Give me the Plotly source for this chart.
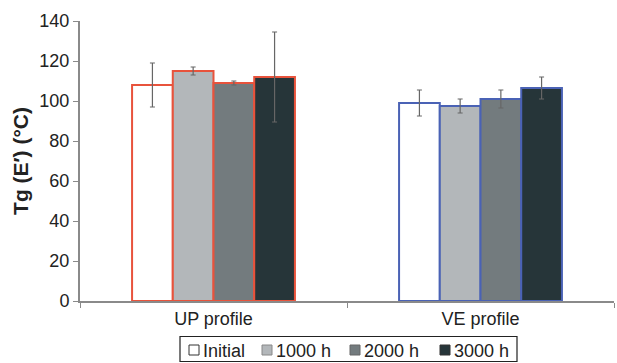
import plotly.graph_objects as go

# Glass transition temperature Tg(E') by profile and ageing time
profiles = ["UP profile", "VE profile"]
series_names = ["Initial", "1000 h", "2000 h", "3000 h"]
tg_initial = [108, 99]
tg_1000h = [115, 97.5]
tg_2000h = [109, 101]
tg_3000h = [112, 106.5]
err_initial = [11, 6.5]
err_1000h = [2, 3.5]
err_2000h = [1, 4.5]
err_3000h = [22.5, 5.5]

values = [tg_initial, tg_1000h, tg_2000h, tg_3000h]
errors = [err_initial, err_1000h, err_2000h, err_3000h]
fills = ["#ffffff", "#b3b7ba", "#737b7e", "#263539"]
swatch_edges = ["#333333", "#888888", "#666666", "#333333"]
outline = ["#e8533c", "#4a62b5"]

W, H = 617, 363
ML, MR, MT, MB = 80, 3, 21, 62
PW, PH = W - ML - MR, H - MT - MB


def px(x):
    return (x - ML) / PW


def py(y):
    return (H - MB - y) / PH


fig = go.Figure()
for name, vals, errs, fill in zip(series_names, values, errors, fills):
    fig.add_trace(go.Bar(
        x=profiles, y=vals, name=name, showlegend=False,
        marker=dict(color=fill, line=dict(color=outline, width=2)),
        error_y=dict(type="data", array=errs, visible=True,
                     color="#666666", thickness=1.2, width=2.5),
    ))

# legend box drawn in paper coordinates
shapes = [dict(type="rect", xref="paper", yref="paper",
               x0=px(180), x1=px(517), y0=py(336.5), y1=py(361.5),
               line=dict(color="#222222", width=1.2), fillcolor="white")]
annotations = []
swatch_x = [189, 262, 350, 440]
for name, fill, edge, sx in zip(series_names, fills, swatch_edges, swatch_x):
    shapes.append(dict(type="rect", xref="paper", yref="paper",
                       x0=px(sx), x1=px(sx + 10), y0=py(345), y1=py(355),
                       line=dict(color=edge, width=1), fillcolor=fill))
    annotations.append(dict(xref="paper", yref="paper", x=px(sx + 11.5),
                            y=py(350.5), text=name, showarrow=False,
                            xanchor="left", yanchor="middle",
                            font=dict(size=18, color="#222222")))

font_family = "Liberation Sans, Arial, sans-serif"
fig.update_layout(
    width=W, height=H,
    margin=dict(l=ML, r=MR, t=MT, b=MB),
    paper_bgcolor="white", plot_bgcolor="white",
    barmode="group", bargap=0.39, bargroupgap=0,
    font=dict(family=font_family, size=18, color="#222222"),
    showlegend=False,
    shapes=shapes, annotations=annotations,
)
fig.update_xaxes(
    showline=True, linecolor="#8a8a8a", linewidth=2,
    ticks="outside", tickson="boundaries", ticklen=5, tickcolor="#8a8a8a",
    tickfont=dict(size=18), showgrid=False, fixedrange=True,
)
fig.update_yaxes(
    range=[0, 140], dtick=20, showline=True, linecolor="#8a8a8a", linewidth=2,
    ticks="outside", ticklen=5, tickcolor="#8a8a8a", showgrid=False,
    zeroline=False, tickfont=dict(size=18),
    title=dict(text="<b>Tg (E′) (°C)</b>", font=dict(size=21), standoff=5),
)

fig.write_html("out.html")
